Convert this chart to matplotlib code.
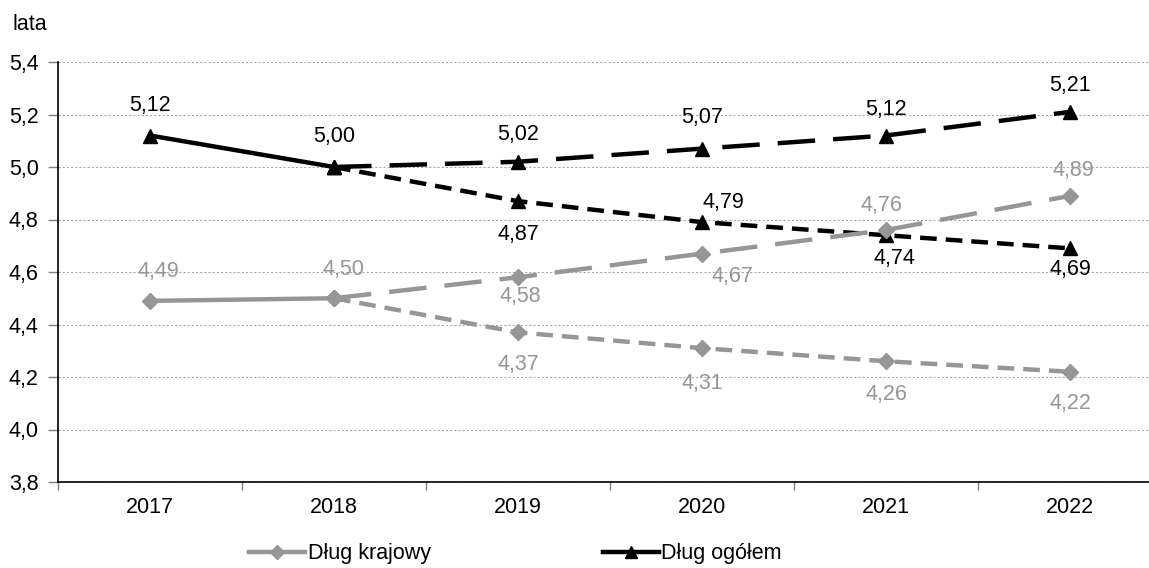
import numpy as np
import matplotlib
matplotlib.use("Agg")
import matplotlib.pyplot as plt
from matplotlib.lines import Line2D
from matplotlib.ticker import FixedLocator, FuncFormatter

plt.rcParams['font.family'] = ['Liberation Sans', 'DejaVu Sans']
plt.rcParams['lines.scale_dashes'] = False

# dane
years = ['2017', '2018', '2019', '2020', '2021', '2022']
ogolem_hist = [5.12, 5.00]
ogolem_wyzszy = [5.00, 5.02, 5.07, 5.12, 5.21]
ogolem_nizszy = [5.00, 4.87, 4.79, 4.74, 4.69]
krajowy_hist = [4.49, 4.50]
krajowy_wyzszy = [4.50, 4.58, 4.67, 4.76, 4.89]
krajowy_nizszy = [4.50, 4.37, 4.31, 4.26, 4.22]

# przesuniecia etykiet (piksele)
off_ogolem_hist = [(0, 30), (0, 31)]
off_ogolem_wyzszy = [None, (0, 27), (0, 31), (0, 26), (0, 26)]
off_ogolem_nizszy = [None, (0, -33), (21, 20), (8, -23), (0, -21)]
off_krajowy_hist = [(8, 29), (9, 29)]
off_krajowy_wyzszy = [None, (2, -19), (30, -23), (-5, 25), (3, 25)]
off_krajowy_nizszy = [None, (0, -32), (0, -35), (0, -33), (0, -32)]

CZARNY = '#000000'
SZARY = '#969696'
DLUGA = (0, (27, 13))
KROTKA = (0, (12, 6.5))
LW = 3.2
FS = 15.5

fig = plt.figure(figsize=(11.49, 5.68), dpi=100)
ax = fig.add_axes([58/1149, 1-482/568, 1104/1149, 420/568])

x_hist = np.arange(0, 2)
x_prog = np.arange(1, 6)

def seria(x, y, kolor, styl, marker, ms, offsety, z):
    ax.plot(x, y, color=kolor, lw=LW, linestyle=styl, marker=marker,
            markersize=ms, markerfacecolor=kolor, markeredgecolor=kolor,
            dash_capstyle='butt', zorder=z)
    for xi, yi, off in zip(x, y, offsety):
        if off is None:
            continue
        ax.annotate(f'{yi:.2f}'.replace('.', ','), (xi, yi), xytext=off,
                    textcoords='offset pixels', ha='center', va='center',
                    fontsize=FS, color=kolor, zorder=10)

seria(x_prog, ogolem_wyzszy, CZARNY, DLUGA, '^', 10, off_ogolem_wyzszy, 3)
seria(x_prog, ogolem_nizszy, CZARNY, KROTKA, '^', 10, off_ogolem_nizszy, 3)
seria(x_hist, ogolem_hist, CZARNY, '-', '^', 10, off_ogolem_hist, 4)
seria(x_prog, krajowy_wyzszy, SZARY, DLUGA, 'D', 8, off_krajowy_wyzszy, 5)
seria(x_prog, krajowy_nizszy, SZARY, KROTKA, 'D', 8, off_krajowy_nizszy, 5)
seria(x_hist, krajowy_hist, SZARY, '-', 'D', 8, off_krajowy_hist, 6)

ax.set_xlim(-0.5, 5.5)
ax.set_ylim(3.8, 5.4)
ax.set_yticks(np.arange(3.8, 5.41, 0.2))
ax.yaxis.set_major_formatter(FuncFormatter(lambda v, p: f'{v:.1f}'.replace('.', ',')))
ax.set_xticks(np.arange(len(years)))
ax.set_xticklabels(years)
ax.xaxis.set_minor_locator(FixedLocator(np.arange(-0.5, 6, 1.0)))

ax.tick_params(axis='x', which='major', length=0, pad=11, labelsize=FS)
ax.tick_params(axis='x', which='minor', length=6, width=1, color='#808080')
ax.tick_params(axis='y', length=7, width=1, color='#808080', pad=7, labelsize=FS)

ax.grid(axis='y', color='#a6a6a6', linestyle=(0, (1.5, 1.5)), linewidth=0.8)
ax.set_axisbelow(True)
for s in ['top', 'right']:
    ax.spines[s].set_visible(False)
for s in ['left', 'bottom']:
    ax.spines[s].set_linewidth(1.2)
    ax.spines[s].set_zorder(7)

fig.text(12/1149, 1-25/568, 'lata', fontsize=FS, ha='left', va='center')

uchwyty = [
    Line2D([], [], color=SZARY, lw=LW, marker='D', markersize=7),
    Line2D([], [], color=CZARNY, lw=LW, marker='^', markersize=8),
]
fig.legend(uchwyty, ['Dług krajowy', 'Dług ogółem'], loc='center left',
           bbox_to_anchor=(230/1149, 1-554/568), ncol=2, frameon=False,
           fontsize=FS, handlelength=2.6, handletextpad=0.1,
           columnspacing=8.0)

fig.savefig('out.png', dpi=100)
